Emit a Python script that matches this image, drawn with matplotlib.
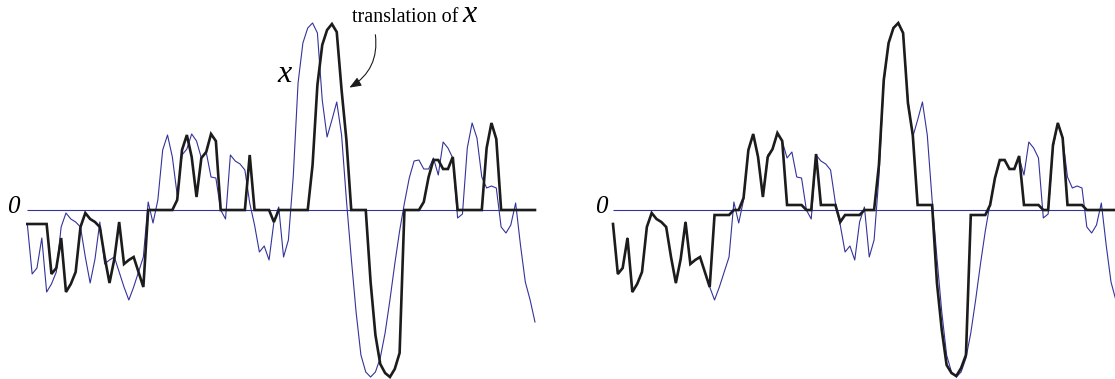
import matplotlib
matplotlib.use("Agg")
import matplotlib.pyplot as plt
from matplotlib.patches import FancyArrowPatch

# signal x, sampled on a regular grid
x_signal = [
    -0.14, -0.64, -0.58, -0.28, -0.82, -0.74, -0.62, -0.17, -0.03, -0.09,
    -0.12, -0.17, -0.47, -0.73, -0.49, -0.12, -0.54, -0.50, -0.47, -0.62,
    -0.77, -0.90, -0.77, -0.62, -0.47, 0.08, -0.13, 0.10, 0.60, 0.75,
    0.53, 0.15, 0.55, 0.61, 0.76, 0.69, 0.52, 0.58, 0.33, 0.32,
    0.00, -0.09, 0.55, 0.49, 0.46, 0.40, 0.07, -0.15, -0.42, -0.36,
    -0.50, -0.12, 0.03, -0.47, -0.30, 0.33, 1.27, 1.67, 1.82, 1.87,
    1.77, 1.10, 0.73, 0.90, 1.08, 0.75, 0.10, -0.48, -1.02, -1.45,
    -1.62, -1.67, -1.62, -1.48, -1.23, -0.90, -0.54, -0.21, 0.07, 0.32,
    0.49, 0.50, 0.41, 0.41, 0.52, 0.35, 0.68, 0.62, 0.52, -0.08,
    -0.04, 0.62, 0.87, 0.72, 0.33, 0.22, 0.24, 0.22, -0.17, -0.23,
    -0.15, 0.07, -0.35, -0.72, -0.90, -1.12,
]

# translated copy of x (left panel)
x_translated = [
    -0.14, -0.14, -0.14, -0.14, -0.14, -0.64, -0.58, -0.28, -0.82, -0.74,
    -0.62, -0.17, -0.03, -0.09, -0.12, -0.17, -0.47, -0.73, -0.49, -0.12,
    -0.54, -0.50, -0.47, -0.62, -0.77, 0.00, 0.00, 0.00, 0.00, 0.00,
    0.00, 0.10, 0.60, 0.75, 0.53, 0.13, 0.52, 0.58, 0.76, 0.69,
    0.00, 0.00, 0.00, 0.00, 0.00, 0.00, 0.55, 0.00, 0.00, 0.00,
    0.00, -0.12, 0.00, 0.00, 0.00, 0.00, 0.00, 0.00, 0.00, 0.45,
    1.25, 1.65, 1.80, 1.86, 1.78, 1.20, 0.70, 0.00, 0.00, 0.00,
    0.00, -0.72, -1.25, -1.54, -1.63, -1.67, -1.59, -1.43, 0.00, 0.00,
    0.00, 0.00, 0.08, 0.33, 0.50, 0.50, 0.41, 0.41, 0.53, 0.00,
    0.00, 0.00, 0.00, 0.00, 0.00, 0.62, 0.87, 0.71, 0.00, 0.00,
    0.00, 0.00, 0.00, 0.00, 0.00, 0.00,
]

# deformed copy of x (right panel)
x_deformed = [
    -0.14, -0.64, -0.58, -0.28, -0.82, -0.74, -0.62, -0.17, -0.03, -0.09,
    -0.12, -0.17, -0.47, -0.73, -0.49, -0.12, -0.54, -0.50, -0.47, -0.62,
    -0.77, -0.05, -0.05, -0.05, -0.05, 0.00, 0.00, 0.12, 0.60, 0.76,
    0.53, 0.13, 0.53, 0.61, 0.77, 0.69, 0.05, 0.05, 0.05, 0.05,
    0.00, 0.00, 0.56, 0.05, 0.05, 0.05, 0.05, -0.12, -0.05, -0.05,
    -0.05, -0.05, 0.00, 0.00, 0.00, 0.45, 1.30, 1.67, 1.82, 1.87,
    1.77, 1.07, 0.75, 0.05, 0.05, 0.05, 0.05, -0.73, -1.20, -1.55,
    -1.63, -1.66, -1.58, -1.45, -0.05, -0.05, -0.05, -0.05, 0.05, 0.32,
    0.50, 0.50, 0.41, 0.41, 0.54, 0.05, 0.05, 0.05, 0.05, 0.00,
    0.00, 0.65, 0.87, 0.72, 0.05, 0.05, 0.05, 0.05, 0.00, 0.00,
    0.00, 0.00, 0.00, 0.00, 0.00, 0.00,
]

W, H = 1115, 379
BLUE = "#33339c"
BLACK = "#1c1c1c"
STEP = 4.835          # pixels per sample
ZERO_Y = 210          # pixel row of the zero level
UNIT = 100            # pixels per unit of signal

fig = plt.figure(figsize=(W / 100, H / 100), dpi=100)


def panel(left_px, width_px, start_px):
    ax = fig.add_axes([left_px / W, 0, width_px / W, 1])
    ax.set_xlim((left_px - start_px) / STEP, (left_px + width_px - start_px) / STEP)
    ax.set_ylim((ZERO_Y - H) / UNIT, ZERO_Y / UNIT)
    ax.axis("off")
    return ax


n = len(x_signal)
idx = list(range(n))

ax1 = panel(0, 575, 27.3)
ax1.hlines(0, 0, n - 1, color=BLUE, lw=0.8)
ax1.plot(idx, x_signal, color=BLUE, lw=0.8)
ax1.plot(idx, x_translated, color=BLACK, lw=1.9, solid_joinstyle="miter")

ax2 = panel(575, 540, 613)
ax2.hlines(0, 0, n - 1, color=BLUE, lw=0.8)
ax2.plot(idx, x_signal, color=BLUE, lw=0.8)
ax2.plot(idx, x_deformed, color=BLACK, lw=1.9, solid_joinstyle="miter")


def fx(px):
    return px / W


def fy(py):
    return 1 - py / H


serif = ["Liberation Serif", "DejaVu Serif"]
fig.text(fx(7), fy(213), "0", fontsize=18, style="italic", family=serif)
fig.text(fx(595), fy(213), "0", fontsize=18, style="italic", family=serif)
fig.text(fx(277), fy(82), "x", fontsize=23, style="italic", family=serif)
fig.text(fx(352), fy(22), "translation of", fontsize=14.5, family=serif)
fig.text(fx(462), fy(22), "x", fontsize=23, style="italic", family=serif)

arrow = FancyArrowPatch(
    (fx(375), fy(32)), (fx(347), fy(89)),
    transform=fig.transFigure,
    connectionstyle="arc3,rad=-0.35",
    arrowstyle="-|>,head_length=7,head_width=2.8",
    color=BLACK, lw=0.8,
)
fig.add_artist(arrow)

fig.savefig("out.png", dpi=100)
